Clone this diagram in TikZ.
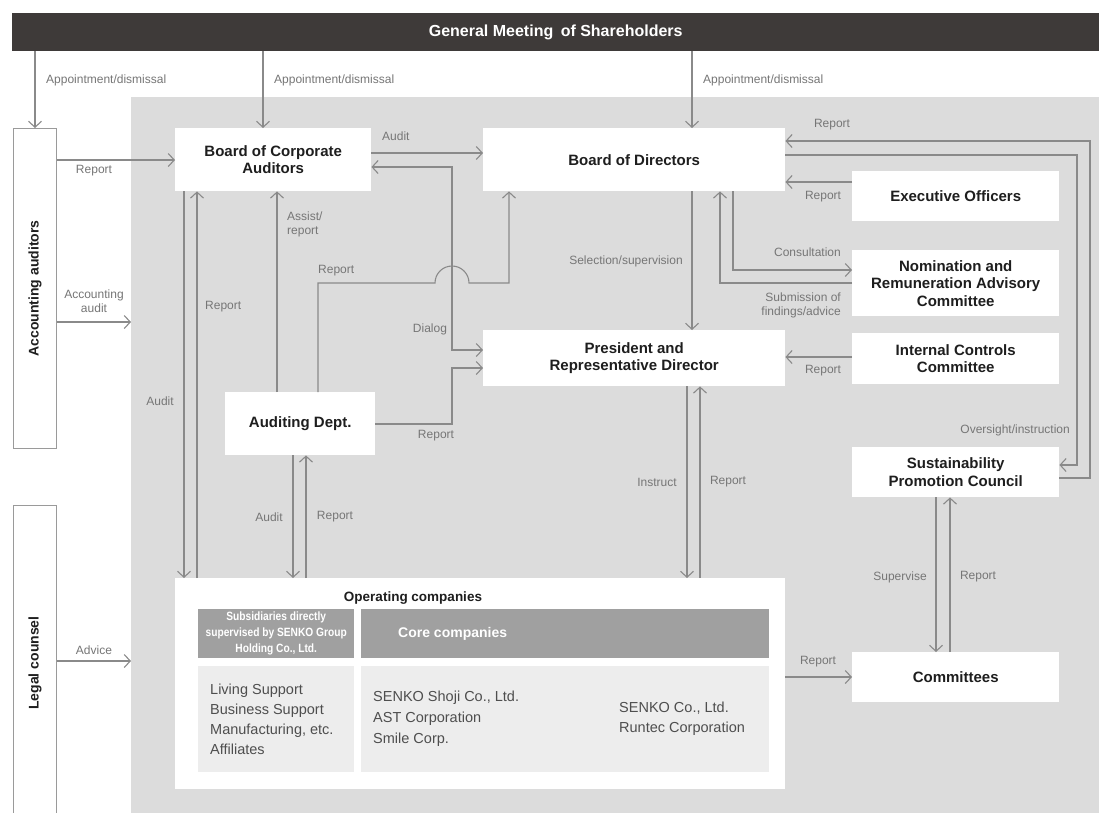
\documentclass[tikz,border=0pt]{standalone}
\usepackage{fontspec}
\usepackage{graphicx}
\setmainfont{Liberation Sans}
\usetikzlibrary{arrows.meta}
\definecolor{barc}{HTML}{3E3A39}
\definecolor{bgc}{HTML}{DCDCDC}
\definecolor{lnc}{HTML}{8A8A8A}
\definecolor{lblc}{HTML}{767676}
\definecolor{hdrc}{HTML}{A0A0A0}
\definecolor{cellc}{HTML}{EDEDED}
\definecolor{ttlc}{HTML}{1E1E1E}
\definecolor{ctxc}{HTML}{4E4E4E}
\definecolor{sidec}{HTML}{9A9A9A}
\tikzset{
  conn/.style={draw=lnc, line width=1.1pt, -{Straight Barb[length=6pt,width=13pt,line width=1.1pt]}},
  connboth/.style={draw=lnc, line width=1.1pt, {Straight Barb[length=6pt,width=13pt,line width=1.1pt]}-{Straight Barb[length=6pt,width=13pt,line width=1.1pt]}},
  wbox/.style={fill=white, draw=none, inner sep=0pt, anchor=north west, align=center, text=ttlc, font=\fontsize{15}{17.5}\selectfont\bfseries},
  sidebox/.style={fill=white, draw=sidec, line width=1pt, inner sep=0pt, anchor=north west, text=ttlc, font=\fontsize{14}{16}\selectfont\bfseries},
  lab/.style={inner sep=0pt, text=lblc, font=\fontsize{12}{14}\selectfont},
  ctext/.style={inner sep=0pt, anchor=west, align=left, text=ctxc},
}
\begin{document}
\begin{tikzpicture}[x=1pt,y=-1pt]
\useasboundingbox (0,0) rectangle (1099,812);
\fill[white] (0,0) rectangle (1099,812);
% grey area
\node[fill=bgc, inner sep=0pt, minimum width=968pt, minimum height=720pt, anchor=north west] (area) at (131,97) {};
% top bar
\node[fill=barc, inner sep=0pt, minimum width=1087pt, minimum height=38pt, anchor=north west, text=white, font=\fontsize{16}{18}\selectfont\bfseries] (gm) at (12,13) {General Meeting\hspace{3pt} of Shareholders};
% side boxes
\node[sidebox, minimum width=43pt, minimum height=320pt] (acc) at (13,128) {\rotatebox{90}{Accounting auditors}};
\node[sidebox, minimum width=43pt, minimum height=315pt] (legal) at (13,505) {\rotatebox{90}{Legal counsel}};
% main boxes
\node[wbox, minimum width=196pt, minimum height=63pt] (bca) at (175,128) {Board of Corporate\\Auditors};
\node[wbox, minimum width=302pt, minimum height=63pt] (bod) at (483,128) {Board of Directors};
\node[wbox, minimum width=207pt, minimum height=50pt] (eo) at (852,171) {Executive Officers};
\node[wbox, minimum width=207pt, minimum height=66pt] (nom) at (852,250) {Nomination and\\Remuneration Advisory\\Committee};
\node[wbox, minimum width=207pt, minimum height=51pt] (ic) at (852,333) {Internal Controls\\Committee};
\node[wbox, minimum width=302pt, minimum height=56pt] (pres) at (483,330) {President and\\Representative Director};
\node[wbox, minimum width=150pt, minimum height=63pt] (aud) at (225,392) {Auditing Dept.};
\node[wbox, minimum width=207pt, minimum height=50pt] (sust) at (852,447) {Sustainability\\Promotion Council};
\node[wbox, minimum width=207pt, minimum height=50pt] (comm) at (852,652) {Committees};
% operating companies
\node[wbox, minimum width=610pt, minimum height=211pt] (op) at (175,578) {};
\node[inner sep=0pt, text=ttlc, font=\fontsize{13.5}{15}\selectfont\bfseries] (optitle) at (413,598) {Operating companies};
\node[fill=hdrc, inner sep=0pt, minimum width=156pt, minimum height=49pt, anchor=north west, text=white, font=\fontsize{12}{16}\selectfont\bfseries] (hdrl) at (198,609) {\scalebox{0.85}[1]{\begin{tabular}{@{}c@{}}Subsidiaries directly\\supervised by SENKO Group\\Holding Co., Ltd.\end{tabular}}};
\node[fill=hdrc, inner sep=0pt, minimum width=408pt, minimum height=49pt, anchor=north west] (hdrr) at (361,609) {};
\node[inner sep=0pt, anchor=west, text=white, font=\fontsize{14}{16}\selectfont\bfseries] (core) at (398,634) {Core companies};
\node[fill=cellc, inner sep=0pt, minimum width=156pt, minimum height=106pt, anchor=north west] (cntl) at (198,666) {};
\node[fill=cellc, inner sep=0pt, minimum width=408pt, minimum height=106pt, anchor=north west] (cntr) at (361,666) {};
\node[ctext, font=\fontsize{14.5}{20}\selectfont] (c1) at (210,719) {Living Support\\Business Support\\Manufacturing, etc.\\Affiliates};
\node[ctext, font=\fontsize{14.5}{21}\selectfont] (c2) at (373,719) {SENKO Shoji Co., Ltd.\\AST Corporation\\Smile Corp.};
\node[ctext, font=\fontsize{14.5}{20}\selectfont] (c3) at (619,719) {SENKO Co., Ltd.\\Runtec Corporation};
% connectors
\draw[conn] (gm.south -| acc.north) -- (acc.north);
\draw[conn] (gm.south -| 263,0) -- (bca.north -| 263,0);
\draw[conn] (gm.south -| 692,0) -- (bod.north -| 692,0);
\draw[conn] (acc.east |- 0,160) -- (bca.west |- 0,160);
\draw[conn] (acc.east |- 0,322) -- (area.west |- 0,322);
\draw[conn] (legal.east |- 0,661) -- (area.west |- 0,661);
\draw[conn] (bca.east |- 0,153) -- (bod.west |- 0,153);
\draw[connboth] (bca.east |- 0,167) -- (452,167) -- (452,350) -- (pres.west |- 0,350);
\draw[conn] (bca.south -| 184,0) -- (op.north -| 184,0);
\draw[conn] (op.north -| 197,0) -- (bca.south -| 197,0);
\draw[conn] (aud.north -| 277,0) -- (bca.south -| 277,0);
\draw[conn] (aud.north -| 318,0) -- (318,283) -- (435,283) arc[start angle=180,end angle=0,radius=17pt] -- (509,283) -- (bod.south -| 509,0);
\draw[conn] (aud.east |- 0,424) -- (452,424) -- (452,368) -- (pres.west |- 0,368);
\draw[conn] (aud.south -| 293,0) -- (op.north -| 293,0);
\draw[conn] (op.north -| 306,0) -- (aud.south -| 306,0);
\draw[conn] (bod.south -| 692,0) -- (pres.north -| 692,0);
\draw[conn] (bod.south -| 733,0) -- (733,270) -- (nom.west |- 0,270);
\draw[conn] (nom.west |- 0,283) -- (720,283) -- (bod.south -| 720,0);
\draw[conn] (eo.west |- 0,182) -- (bod.east |- 0,182);
\draw[conn] (ic.west |- 0,357) -- (pres.east |- 0,357);
\draw[conn] (sust.east |- 0,478) -- (1090,478) -- (1090,141) -- (bod.east |- 0,141);
\draw[conn] (bod.east |- 0,155) -- (1077,155) -- (1077,465) -- (sust.east |- 0,465);
\draw[conn] (pres.south -| 687,0) -- (op.north -| 687,0);
\draw[conn] (op.north -| 700,0) -- (pres.south -| 700,0);
\draw[conn] (sust.south -| 936,0) -- (comm.north -| 936,0);
\draw[conn] (comm.north -| 950,0) -- (sust.south -| 950,0);
\draw[conn] (op.east |- 0,677) -- (comm.west |- 0,677);
% labels
\node[lab, anchor=west] (l1) at (46,80) {Appointment/dismissal};
\node[lab, anchor=west] (l2) at (274,80) {Appointment/dismissal};
\node[lab, anchor=west] (l3) at (703,80) {Appointment/dismissal};
\node[lab] (l4) at (94,171) {Report};
\node[lab, align=center] (l5) at (94,301) {Accounting\\audit};
\node[lab] (l6) at (94,650) {Advice};
\node[lab, anchor=west] (l7) at (382,136) {Audit};
\node[lab, anchor=west] (l8) at (205,307) {Report};
\node[lab] (l9) at (160,401) {Audit};
\node[lab, anchor=west, align=left] (l10) at (287,224) {Assist/\\report};
\node[lab, anchor=west] (l11) at (318,271) {Report};
\node[lab] (l12) at (430,329) {Dialog};
\node[lab] (l13) at (436,436) {Report};
\node[lab] (l14) at (269,517) {Audit};
\node[lab] (l15) at (335,517) {Report};
\node[lab] (l16) at (626,261) {Selection/supervision};
\node[lab, anchor=east] (l17) at (841,252) {Consultation};
\node[lab, anchor=east, align=right] (l18) at (841,305) {Submission of\\findings/advice};
\node[lab] (l19) at (823,197) {Report};
\node[lab] (l20) at (832,125) {Report};
\node[lab] (l21) at (823,371) {Report};
\node[lab, anchor=east] (l22) at (1070,430) {Oversight/instruction};
\node[lab] (l23) at (657,482) {Instruct};
\node[lab] (l24) at (728,482) {Report};
\node[lab] (l25) at (900,577) {Supervise};
\node[lab] (l26) at (978,577) {Report};
\node[lab] (l27) at (818,662) {Report};
\end{tikzpicture}
\end{document}
